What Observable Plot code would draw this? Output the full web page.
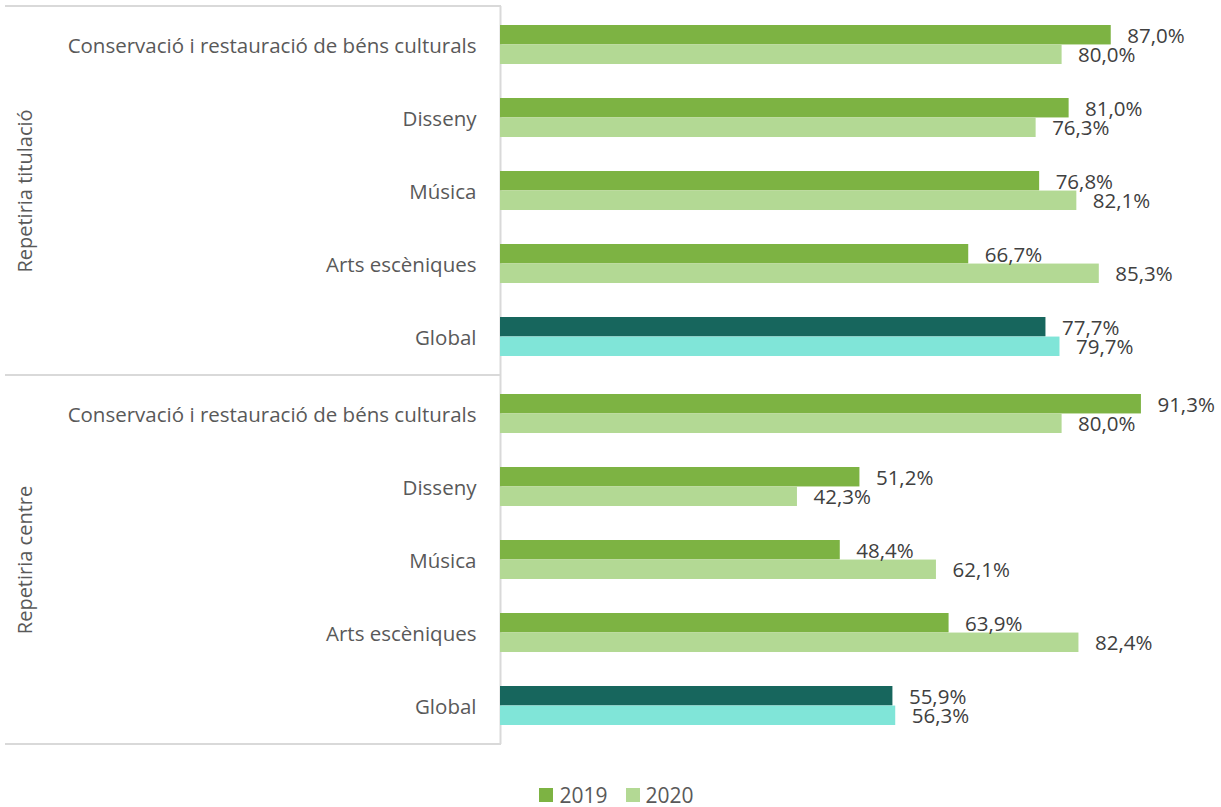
<!DOCTYPE html>
<html>
<head>
<meta charset="utf-8">
<script src="https://cdn.jsdelivr.net/npm/d3@7"></script>
<script src="https://cdn.jsdelivr.net/npm/@observablehq/plot@0.6"></script>
<style>
  html, body { margin: 0; padding: 0; background: #fff; }
  #legend { display: flex; justify-content: center; gap: 18px; margin-top: 24px; padding-left: 12px;
            font-family: "Open Sans", sans-serif; font-size: 21px; color: #595959; line-height: 22px; }
  #legend span.item { display: inline-flex; align-items: center; gap: 6px; }
  #legend span.sw { display: inline-block; width: 14px; height: 14px; }
</style>
</head>
<body>
<div id="chart"></div>
<div id="legend"></div>
<script>
const groups = ["Repetiria titulació", "Repetiria centre"];
const categories = ["Conservació i restauració de béns culturals", "Disseny", "Música", "Arts escèniques", "Global"];
const years = ["2019", "2020"];
const values2019 = {
  "Repetiria titulació": [87.0, 81.0, 76.8, 66.7, 77.7],
  "Repetiria centre":    [91.3, 51.2, 48.4, 63.9, 55.9]
};
const values2020 = {
  "Repetiria titulació": [80.0, 76.3, 82.1, 85.3, 79.7],
  "Repetiria centre":    [80.0, 42.3, 62.1, 82.4, 56.3]
};
const colors = { "2019": "#7db343", "2020": "#b3d994" };
const globalColors = { "2019": "#17665d", "2020": "#80e5d8" };

const rows = [];
for (const g of groups) {
  categories.forEach((c, i) => {
    rows.push({group: g, cat: c, year: "2019", value: values2019[g][i]});
    rows.push({group: g, cat: c, year: "2020", value: values2020[g][i]});
  });
}
const fillOf = d => (d.cat === "Global" ? globalColors : colors)[d.year];
const fmt = v => v.toFixed(1).replace(".", ",") + "%";

const W = 1221, H = 760;
const mTop = 6, mBottom = 16, mLeft = 500, mRight = 19;
const padInner = 0.47;
const step = (H - mTop - mBottom) / (groups.length * categories.length);
const half = step * (1 - padInner) / 2;

const r19 = rows.filter(d => d.year === "2019");
const r20 = rows.filter(d => d.year === "2020");

const chart = Plot.plot({
  width: W, height: H,
  marginTop: mTop, marginBottom: mBottom, marginLeft: mLeft, marginRight: mRight,
  style: {fontFamily: "Open Sans", fontSize: "20.5px", color: "#595959", background: "white"},
  x: {domain: [0, 100], axis: null},
  y: {domain: categories, paddingInner: padInner, paddingOuter: padInner / 2, label: null},
  fy: {domain: groups, padding: 0, axis: null, label: null},
  facet: {data: rows, y: "group"},
  marks: [
    Plot.ruleX([0], {stroke: "#d9d9d9", strokeWidth: 2}),
    Plot.barX(r19, {x: "value", y: "cat", fy: "group", fill: fillOf, insetBottom: half, insetTop: 0}),
    Plot.barX(r20, {x: "value", y: "cat", fy: "group", fill: fillOf, insetTop: half, insetBottom: 0}),
    Plot.text(r19, {x: "value", y: "cat", fy: "group", text: d => fmt(d.value), textAnchor: "start", dx: 16, dy: -half / 2 + 1, fill: "#404040", fontSize: 20.5}),
    Plot.text(r20, {x: "value", y: "cat", fy: "group", text: d => fmt(d.value), textAnchor: "start", dx: 16, dy: half / 2 + 1, fill: "#404040", fontSize: 20.5}),
    Plot.axisY({fy: null, tickSize: 0, tickPadding: 24, fontSize: 20.5, fill: "#595959", dy: 1}),
    Plot.text(groups, {fy: d => d, text: d => d, frameAnchor: "left", textAnchor: "middle", rotate: -90, dx: -475, fill: "#595959", fontSize: 20})
  ]
});
document.getElementById("chart").appendChild(chart);

// separator lines of the multi-level category axis, positioned via Plot's scales
const fyS = chart.scale("fy"), xS = chart.scale("x");
const fyBand = d3.scaleBand().domain(fyS.domain).range(fyS.range)
  .paddingInner(fyS.paddingInner || 0).paddingOuter(fyS.paddingOuter || 0).align(fyS.align ?? 0.5);
const xLin = d3.scaleLinear(xS.domain, xS.range);
const svg = d3.select(chart.tagName.toLowerCase() === "svg" ? chart : chart.querySelector("svg"));
const bounds = fyS.domain.map(g => fyBand(g)).concat([fyBand(fyS.domain[fyS.domain.length - 1]) + fyBand.bandwidth()]);
svg.append("g").selectAll("line").data(bounds).join("line")
  .attr("x1", 5).attr("x2", xLin(0) + 1)
  .attr("y1", d => d).attr("y2", d => d)
  .attr("stroke", "#d9d9d9").attr("stroke-width", 2);

const legend = document.getElementById("legend");
years.forEach(y => {
  const it = document.createElement("span"); it.className = "item";
  const sw = document.createElement("span"); sw.className = "sw"; sw.style.background = colors[y];
  const t = document.createElement("span"); t.textContent = y;
  it.appendChild(sw); it.appendChild(t); legend.appendChild(it);
});
</script>
</body>
</html>
